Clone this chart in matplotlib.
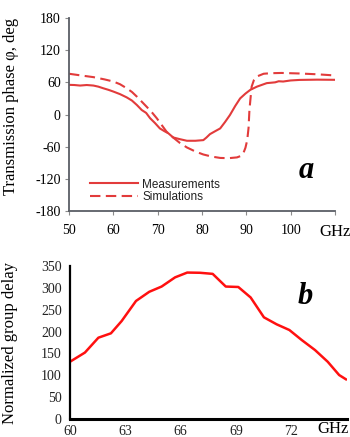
import matplotlib
matplotlib.use("Agg")
import matplotlib.pyplot as plt

# --- (a) transmission phase vs frequency ---
meas_ghz = [50.0, 51.2, 52.5, 54.0, 55.5, 56.6, 57.7, 58.9, 60.0, 61.5, 63.0, 64.2,
            65.3, 66.4, 67.4, 68.3, 69.4, 70.5, 71.5, 72.4, 73.5, 75.0, 76.6, 78.5,
            80.3, 81.0, 81.8, 83.0, 84.1, 85.2, 86.3, 87.5, 88.6, 89.8, 90.9, 92.4,
            94.6, 96.5, 97.3, 98.3, 100.0, 102.0, 106.0, 110.0]
meas_deg = [55.3, 55.0, 54.0, 55.0, 54.0, 52.0, 49.0, 46.0, 42.8, 38.0, 32.0, 26.0,
            17.8, 8.4, 3.0, -7.0, -16.0, -26.0, -31.0, -35.0, -42.8, -46.0, -49.0, -49.0,
            -47.8, -43.0, -36.6, -31.0, -26.0, -14.0, -1.0, 16.0, 30.0, 39.0, 46.0, 52.0,
            58.5, 60.0, 62.0, 61.5, 63.5, 64.5, 65.0, 64.7]

sim_ghz = [50.0, 53.0, 55.5, 58.0, 60.0, 61.5, 63.0, 64.2, 65.3, 66.4, 67.5, 68.7,
           69.8, 70.9, 72.0, 73.5, 75.0, 76.6, 78.5, 80.3, 82.2, 84.1, 86.0, 87.9,
           88.7, 89.3, 89.8, 90.2, 90.5, 90.7, 91.0, 91.2, 91.7, 92.4, 93.9, 95.4,
           98.0, 102.0, 106.0, 110.0]
sim_deg = [76.0, 72.5, 69.7, 65.5, 61.5, 56.5, 49.0, 42.0, 33.4, 24.0, 14.6, 4.0,
           -7.0, -19.5, -32.0, -43.0, -53.0, -61.5, -69.0, -74.6, -78.5, -81.0, -81.5, -80.0,
           -77.5, -72.8, -62.0, -47.8, -25.0, 8.4, 35.0, 52.0, 64.0, 71.0, 76.0, 77.0,
           77.5, 76.5, 75.0, 72.8]

phase_xticks = [50, 60, 70, 80, 90, 100, 110]
phase_xlabels = ["50", "60", "70", "80", "90", "100", "GHz"]
phase_yticks = [-180, -120, -60, 0, 60, 120, 180]

# --- (b) normalized group delay vs frequency ---
delay_ghz = [60.0, 60.81, 61.54, 62.22, 62.8, 63.58, 64.3, 64.97, 65.7, 66.36, 67.05,
             67.74, 68.45, 69.13, 69.8, 70.52, 71.21, 71.9, 72.57, 73.29, 73.98, 74.6, 74.97]
delay_val = [131, 152, 186, 196, 224, 270, 291, 303, 324, 335, 334.5,
             332, 303, 302, 278, 232.6, 216.6, 203.6, 180.7, 157.8, 131, 100.6, 90.8]

delay_xticks = [60, 63, 66, 69, 72]
delay_yticks = [0, 50, 100, 150, 200, 250, 300, 350]

serif = ["Liberation Serif", "DejaVu Serif"]
sans = ["Liberation Sans", "DejaVu Sans"]

W, H = 350, 437
fig = plt.figure(figsize=(W / 100, H / 100), dpi=100)


def px(x, y):
    """Pixel position (from top-left) to figure fraction."""
    return x / W, 1 - y / H


# top panel
ax1 = fig.add_axes([69 / W, 1 - 211 / H, 266 / W, 193 / H])
red_a = "#e23b3b"
ax1.plot(meas_ghz, meas_deg, color=red_a, lw=1.5, label="Measurements")
ax1.plot(sim_ghz, sim_deg, color=red_a, lw=1.5, dashes=(5, 2.6), label="Simulations")
ax1.set_xlim(50, 110)
ax1.set_ylim(-180, 180)
ax1.set_xticks(phase_xticks)
ax1.set_xticklabels(phase_xlabels, family=serif, fontsize=10)
ax1.get_xticklabels()[-1].set_fontsize(12)
ax1.set_yticks(phase_yticks)
ax1.set_yticklabels([str(v) for v in phase_yticks], family=serif, fontsize=10)
for s in ("top", "right"):
    ax1.spines[s].set_visible(False)
for s in ("left", "bottom"):
    ax1.spines[s].set_color("#5a5e66")
    ax1.spines[s].set_linewidth(1.3)
ax1.tick_params(axis="both", colors="#8a8a8a", length=3, width=0.8, labelcolor="black")
ax1.tick_params(axis="y", pad=3)
ax1.tick_params(axis="x", pad=6)
ax1.set_ylabel("Transmission phase φ, deg", family=serif, fontsize=12)
ax1.yaxis.set_label_coords(-0.188, 0.54)
fig.text(*px(306, 170), "a", family=serif, fontsize=22,
         fontweight="bold", fontstyle="italic", ha="center", va="center")
leg = ax1.legend(loc="lower left", bbox_to_anchor=(0.055, 0.01), frameon=False,
                 handlelength=4.1, handletextpad=0.35, labelspacing=0.05, borderpad=0,
                 prop={"family": sans, "size": 8.5})
for t in leg.get_texts():
    t.set_color("#222222")

# bottom panel
ax2 = fig.add_axes([70 / W, 1 - 419 / H, 276.5 / W, 153 / H])
ax2.plot(delay_ghz, delay_val, color="#ff1010", lw=1.8)
ax2.set_xlim(60, 75)
ax2.set_ylim(0, 350)
ax2.set_xticks(delay_xticks)
ax2.set_xticklabels([str(v) for v in delay_xticks], family=serif, fontsize=10)
ax2.set_yticks(delay_yticks)
ax2.set_yticklabels([str(v) for v in delay_yticks], family=serif, fontsize=10)
for s in ("top", "right"):
    ax2.spines[s].set_visible(False)
ax2.spines["left"].set_linewidth(1.6)
ax2.spines["bottom"].set_linewidth(2.2)
ax2.tick_params(axis="y", length=0, pad=6, labelcolor="#222222")
ax2.tick_params(axis="x", length=0, pad=4, labelcolor="#222222")
ax2.set_ylabel("Normalized group delay", family=serif, fontsize=12)
ax2.yaxis.set_label_coords(-0.188, 0.5)
fig.text(*px(333, 429), "GHz", family=serif, fontsize=12, ha="center", va="center")
fig.text(*px(305, 296), "b", family=serif, fontsize=22,
         fontweight="bold", fontstyle="italic", ha="center", va="center")

fig.savefig("out.png", dpi=100)
